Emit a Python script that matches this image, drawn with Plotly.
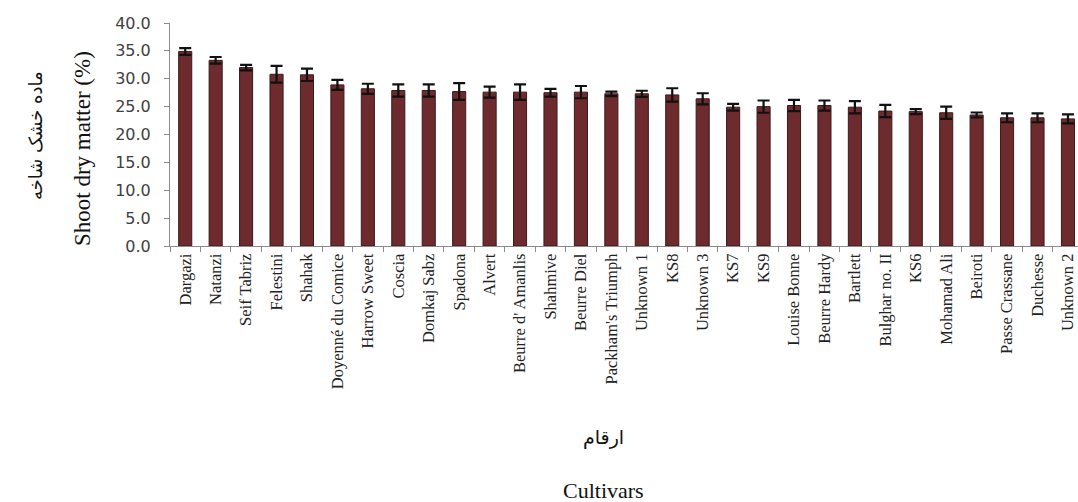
import plotly.graph_objects as go

# Pear cultivars, shoot dry matter (%) with standard error
cultivars = [
    "Dargazi", "Natanzi", "Seif Tabriz", "Felestini", "Shahak",
    "Doyenné du Comice", "Harrow Sweet", "Coscia", "Domkaj Sabz", "Spadona",
    "Alvert", "Beurre d' Amanlis", "Shahmive", "Beurre Diel", "Packham's Triumph",
    "Unknown 1", "KS8", "Unknown 3", "KS7", "KS9",
    "Louise Bonne", "Beurre Hardy", "Bartlett", "Bulghar no. II", "KS6",
    "Mohamad Ali", "Beiroti", "Passe Crassane", "Duchesse", "Unknown 2",
]
dry_matter = [
    34.9, 33.3, 32.0, 30.8, 30.7,
    28.9, 28.2, 27.9, 27.9, 27.7,
    27.6, 27.6, 27.5, 27.6, 27.3,
    27.3, 27.1, 26.4, 24.9, 25.0,
    25.2, 25.2, 24.9, 24.2, 24.1,
    23.9, 23.5, 23.0, 23.0, 22.8,
]
std_err = [
    0.6, 0.6, 0.5, 1.5, 1.1,
    0.9, 0.9, 1.1, 1.1, 1.5,
    1.0, 1.4, 0.7, 1.1, 0.4,
    0.55, 1.2, 1.0, 0.6, 1.1,
    1.0, 0.9, 1.1, 1.1, 0.45,
    1.1, 0.45, 0.8, 0.8, 0.8,
]
y_ticks = [0, 5, 10, 15, 20, 25, 30, 35, 40]

W, H = 1078, 502
L, R, T, B = 170, 0, 23, 256
plot_w = W - L - R
plot_h = H - T - B


def px_x(px):
    return (px - L) / plot_w


def px_y(py):
    return (H - B - py) / plot_h


fig = go.Figure(
    go.Bar(
        x=cultivars,
        y=dry_matter,
        marker=dict(color="#6d2b2d", line=dict(color="#3b1a1b", width=1)),
        error_y=dict(type="data", array=std_err, visible=True,
                     color="#111111", thickness=2.2, width=6),
    )
)

fig.update_layout(
    width=W, height=H,
    margin=dict(l=L, r=R, t=T, b=B, pad=0),
    template="none",
    paper_bgcolor="white",
    plot_bgcolor="white",
    showlegend=False,
    bargap=0.57,
)

fig.update_xaxes(
    type="category",
    range=[-0.5, 29.33],
    showline=True, linecolor="#8c8c8c", linewidth=1,
    ticks="outside", tickson="boundaries", ticklen=5, tickcolor="#8c8c8c",
    tickangle=-90,
    tickfont=dict(family="Liberation Serif", size=16.5, color="#222222"),
    showgrid=False, zeroline=False, automargin=False,
)

fig.update_yaxes(
    range=[0, 40],
    tickvals=y_ticks,
    ticktext=[f"{v:.1f}" for v in y_ticks],
    showline=True, linecolor="#8c8c8c", linewidth=1,
    ticks="outside", ticklen=5, tickcolor="#8c8c8c",
    ticklabelstandoff=10,
    tickfont=dict(family="DejaVu Sans", size=16, color="#404040"),
    showgrid=False, zeroline=False, automargin=False,
)

annotations = [
    dict(text="Shoot dry matter (%)", x=px_x(82), y=px_y(149), textangle=-90,
         font=dict(family="Liberation Serif", size=23, color="#111111")),
    dict(text="ماده خشک شاخه", x=px_x(35), y=px_y(136), textangle=-90,
         font=dict(family="DejaVu Sans", size=18, color="#111111")),
    dict(text="ارقام", x=px_x(603), y=px_y(437),
         font=dict(family="DejaVu Sans", size=19, color="#111111")),
    dict(text="Cultivars", x=px_x(603), y=px_y(490),
         font=dict(family="Liberation Serif", size=22, color="#111111")),
]
for a in annotations:
    fig.add_annotation(xref="paper", yref="paper", showarrow=False,
                       xanchor="center", yanchor="middle", **a)

fig.write_html("out.html")
